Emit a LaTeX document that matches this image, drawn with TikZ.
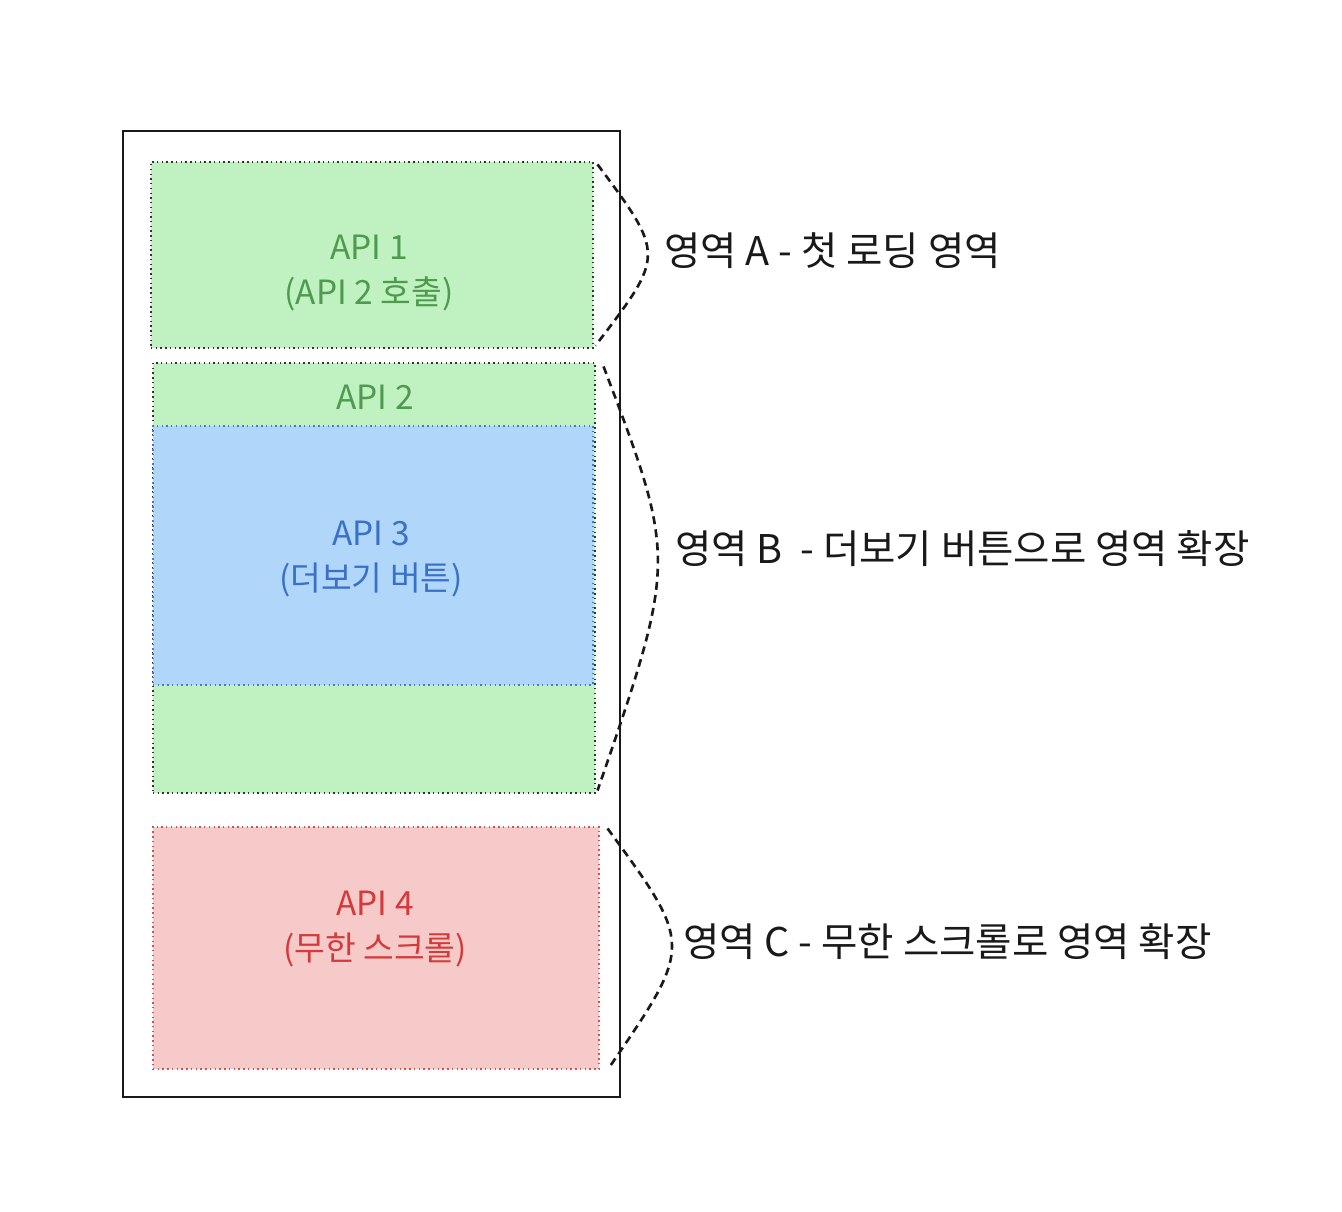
\documentclass[tikz,border=0pt]{standalone}
\usepackage{fontspec}
\setmainfont{Noto Sans CJK KR}
\usetikzlibrary{fit}
\usetikzlibrary{positioning}

\definecolor{areagreen}{RGB}{192,241,192}
\definecolor{textgreen}{RGB}{78,154,78}
\definecolor{areablue}{RGB}{176,214,250}
\definecolor{textblue}{RGB}{58,112,200}
\definecolor{edgeblue}{RGB}{70,120,210}
\definecolor{areared}{RGB}{247,202,202}
\definecolor{textred}{RGB}{212,58,58}
\definecolor{edgered}{RGB}{215,80,80}

\begin{document}
\begin{tikzpicture}[
    x=0.02cm, y=-0.02cm,
    area/.style={rectangle, inner sep=0, line width=0.6pt, dash pattern=on 0.8pt off 1.9pt},
    greenarea/.style={area, draw=black!80, fill=areagreen},
    bluearea/.style={area, draw=edgeblue, fill=areablue},
    redarea/.style={area, draw=edgered, fill=areared},
    apitext/.style={align=center, font=\fontsize{19}{26}\selectfont},
    region/.style={anchor=west, font=\fontsize{22.5}{27}\selectfont, text=black!90},
    brace/.style={line width=1.5pt, dash pattern=on 4.5pt off 3pt, black!90}
  ]
  \useasboundingbox (0,0) rectangle (1342,1212);
  \node[draw=black!90, line width=1.4pt, inner sep=0, fit={(123,131) (620,1097)}] (frame) {};

  % first load
  \node[greenarea, fit={(151,162) (593,348)}] (a) {};
  \node[apitext, text=textgreen] (api1) at (369,273) {API 1\\(API 2 호출)};

  % more button
  \node[greenarea, fit={(153,363) (595,793)}] (b) {};
  \node[bluearea, fit={(153,426) (593,685)}] (more) {};
  \node[apitext, text=textgreen] (api2) at (375,397) {API 2};
  \node[apitext, text=textblue] (api3) at (371,559) {API 3\\(더보기 버튼)};

  % infinite scroll
  \node[redarea, fit={(153,827) (599,1069)}] (c) {};
  \node[apitext, text=textred] (api4) at (375,929) {API 4\\(무한 스크롤)};

  % braces
  \draw[brace] ([xshift=4*0.02cm, yshift=-3*0.02cm]a.north east)
    .. controls (665,255) .. ([xshift=2*0.02cm, yshift=3*0.02cm]a.south east);
  \draw[brace] ([xshift=8*0.02cm, yshift=-4*0.02cm]b.north east)
    .. controls (677,560) .. ([xshift=2*0.02cm, yshift=3*0.02cm]b.south east);
  \draw[brace] ([xshift=8*0.02cm, yshift=-2*0.02cm]c.north east)
    .. controls (693,945) .. ([xshift=11*0.02cm, yshift=4*0.02cm]c.south east);

  \node[region] (ra) at (658,251) {영역 A - 첫 로딩 영역};
  \node[region] (rb) at (669,549) {영역 B \ - 더보기 버튼으로 영역 확장};
  \node[region] (rc) at (677,942) {영역 C - 무한 스크롤로 영역 확장};
\end{tikzpicture}
\end{document}
